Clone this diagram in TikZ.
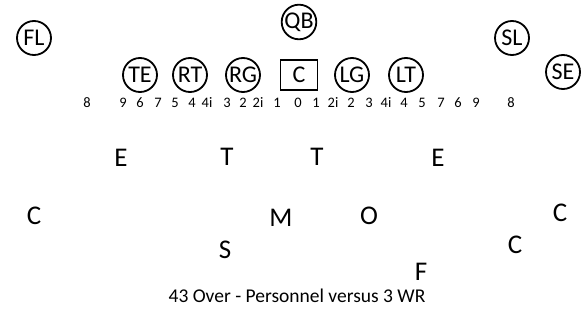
\documentclass[tikz,border=0pt]{standalone}
\usepackage{fontspec}
\setmainfont{Carlito}
\usetikzlibrary{positioning}

\begin{document}
\begin{tikzpicture}[
	x=1pt, y=-1pt,
	player/.style={
		circle,
		draw=black,
		line width=1.8pt,
		minimum size=34pt,
		inner sep=0pt,
		font=\fontsize{24}{24}\selectfont
	},
	center/.style={
		rectangle,
		draw=black,
		line width=1.8pt,
		minimum width=37pt,
		minimum height=30pt,
		inner sep=0pt,
		font=\fontsize{24}{24}\selectfont
	},
	gap/.style={font=\fontsize{14.5}{14.5}\selectfont, inner sep=0pt},
	defender/.style={font=\fontsize{27}{27}\selectfont, inner sep=0pt},
	caption/.style={font=\fontsize{19.5}{19.5}\selectfont, inner sep=0pt}
]
\useasboundingbox (0,0) rectangle (587,331);

% offense
\node[player] (fl) at (34,38) {FL};
\node[player] (qb) at (299,22) {QB};
\node[player] (sl) at (512,38) {SL};
\node[player] (se) at (563,72) {SE};
\node[player] (te) at (140,75) {TE};
\node[player] (rt) at (190,75) {RT};
\node[player] (rg) at (243,75) {RG};
\node[center] (c) at (299,75) {C};
\node[player] (lg) at (352,75) {LG};
\node[player] (lt) at (406,75) {LT};

% gap numbers
\foreach \x/\t [count=\i] in {87/8, 123/9, 140/6, 158/7, 175/5, 192/4, 207/4i, 227/3, 243/2, 258/2i, 277/1, 298/0, 316/1, 333/2i, 351/2, 369/3, 386/4i, 404/4, 422/5, 441/7, 458/6, 476/9, 511/8}
	\node[gap] (g\i) at (\x,103) {\t};

% defense
\node[defender] (del) at (121,158) {E};
\node[defender] (dtl) at (227,157) {T};
\node[defender] (dtr) at (317,157) {T};
\node[defender] (der) at (438,158) {E};
\node[defender] (cbl) at (34,216) {C};
\node[defender] (mlb) at (281,218) {M};
\node[defender] (olb) at (369,216) {O};
\node[defender] (cbr) at (560,213) {C};
\node[defender] (ss) at (225,250) {S};
\node[defender] (nb) at (515,245) {C};
\node[defender] (fs) at (421,272) {F};

\node[caption] (title) at (297,296) {43 Over - Personnel versus 3 WR};
\end{tikzpicture}
\end{document}
